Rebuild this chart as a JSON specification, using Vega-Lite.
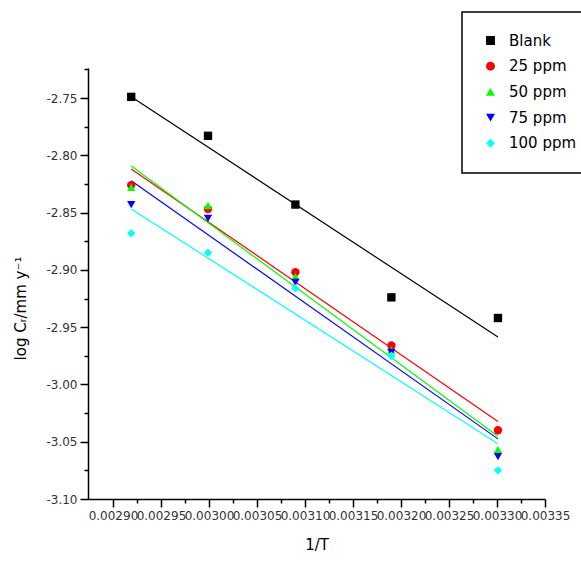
{
  "$schema": "https://vega.github.io/schema/vega-lite/v6.json",
  "width": 457,
  "height": 431,
  "autosize": {"type": "none"},
  "padding": {"left": 88, "top": 68, "right": 36, "bottom": 64},
  "background": "white",
  "config": {
    "view": {"stroke": null},
    "axis": {
      "grid": false,
      "domainColor": "black",
      "domainWidth": 1.5,
      "tickColor": "black",
      "tickWidth": 1.5,
      "labelFont": "DejaVu Sans",
      "labelFontSize": 12,
      "labelColor": "#333333",
      "titleFont": "DejaVu Sans",
      "titleFontSize": 15,
      "titleFontWeight": "normal",
      "titleColor": "black"
    },
    "legend": {
      "strokeColor": "black",
      "fillColor": "white",
      "padding": 21,
      "symbolSize": 80,
      "symbolStrokeWidth": 0,
      "symbolOpacity": 1,
      "labelFont": "DejaVu Sans",
      "labelFontSize": 15,
      "labelColor": "black",
      "labelOffset": 11,
      "rowPadding": 9.7,
      "labelLimit": 200
    }
  },
  "data": {
    "values": [
      {"series": "Blank", "x": 0.002919, "y": -2.749},
      {"series": "Blank", "x": 0.002999, "y": -2.783},
      {"series": "Blank", "x": 0.003090, "y": -2.843},
      {"series": "Blank", "x": 0.003190, "y": -2.924},
      {"series": "Blank", "x": 0.003301, "y": -2.942},
      {"series": "25 ppm", "x": 0.002919, "y": -2.826},
      {"series": "25 ppm", "x": 0.002999, "y": -2.847},
      {"series": "25 ppm", "x": 0.003090, "y": -2.902},
      {"series": "25 ppm", "x": 0.003190, "y": -2.966},
      {"series": "25 ppm", "x": 0.003301, "y": -3.040},
      {"series": "50 ppm", "x": 0.002919, "y": -2.828},
      {"series": "50 ppm", "x": 0.002999, "y": -2.844},
      {"series": "50 ppm", "x": 0.003090, "y": -2.906},
      {"series": "50 ppm", "x": 0.003190, "y": -2.970},
      {"series": "50 ppm", "x": 0.003301, "y": -3.057},
      {"series": "75 ppm", "x": 0.002919, "y": -2.843},
      {"series": "75 ppm", "x": 0.002999, "y": -2.855},
      {"series": "75 ppm", "x": 0.003090, "y": -2.911},
      {"series": "75 ppm", "x": 0.003190, "y": -2.972},
      {"series": "75 ppm", "x": 0.003301, "y": -3.063},
      {"series": "100 ppm", "x": 0.002919, "y": -2.868},
      {"series": "100 ppm", "x": 0.002999, "y": -2.885},
      {"series": "100 ppm", "x": 0.003090, "y": -2.916},
      {"series": "100 ppm", "x": 0.003190, "y": -2.975},
      {"series": "100 ppm", "x": 0.003301, "y": -3.075}
    ]
  },
  "encoding": {
    "x": {
      "field": "x",
      "type": "quantitative",
      "title": "1/T",
      "scale": {"domain": [0.002874, 0.00335], "nice": false, "zero": false},
      "axis": {
        "values": [0.0029, 0.002925, 0.00295, 0.002975, 0.003, 0.003025, 0.00305, 0.003075, 0.0031, 0.003125, 0.00315, 0.003175, 0.0032, 0.003225, 0.00325, 0.003275, 0.0033, 0.003325, 0.00335],
        "labelExpr": "abs(round(datum.value*40000)) % 2 == 1 ? '' : format(datum.value, '.5f')",
        "tickSize": {"condition": {"test": "abs(round(datum.value*40000)) % 2 == 1", "value": 4}, "value": 8},
        "labelOverlap": false,
        "labelFlush": false,
        "labelPadding": 3,
        "titlePadding": 16
      }
    },
    "y": {
      "field": "y",
      "type": "quantitative",
      "title": "log Cᵣ/mm y⁻¹",
      "scale": {"domain": [-3.1, -2.7238], "nice": false, "zero": false},
      "axis": {
        "values": [-3.1, -3.075, -3.05, -3.025, -3.0, -2.975, -2.95, -2.925, -2.9, -2.875, -2.85, -2.825, -2.8, -2.775, -2.75, -2.725],
        "labelExpr": "abs(round(datum.value*40)) % 2 == 1 ? '' : replace(format(datum.value, '.2f'), '\u2212', '-')",
        "tickSize": {"condition": {"test": "abs(round(datum.value*40)) % 2 == 1", "value": 4}, "value": 8},
        "labelOverlap": false,
        "labelFlush": false,
        "labelPadding": 3,
        "titleX": -60,
        "titleY": 240
      }
    },
    "color": {
      "field": "series",
      "type": "nominal",
      "scale": {"domain": ["Blank", "25 ppm", "50 ppm", "75 ppm", "100 ppm"], "range": ["#000000", "#ff0000", "#00ff00", "#0000ff", "#00ffff"]},
      "legend": {
        "title": null,
        "orient": "none",
        "legendX": 374,
        "legendY": -56,
        "encode": {"legend": {"update": {"strokeWidth": {"value": 1.5}}}}
      }
    }
  },
  "layer": [
    {
      "transform": [{"regression": "y", "on": "x", "groupby": ["series"]}],
      "mark": {"type": "line", "strokeWidth": 1.2}
    },
    {
      "mark": {"type": "point", "filled": true, "opacity": 1, "size": 70},
      "encoding": {
        "shape": {
          "field": "series",
          "type": "nominal",
          "scale": {"domain": ["Blank", "25 ppm", "50 ppm", "75 ppm", "100 ppm"], "range": ["square", "circle", "triangle-up", "triangle-down", "diamond"]},
          "legend": {
            "title": null,
            "orient": "none",
            "legendX": 374,
            "legendY": -56,
            "encode": {"legend": {"update": {"strokeWidth": {"value": 1.5}}}}
          }
        }
      }
    }
  ]
}
